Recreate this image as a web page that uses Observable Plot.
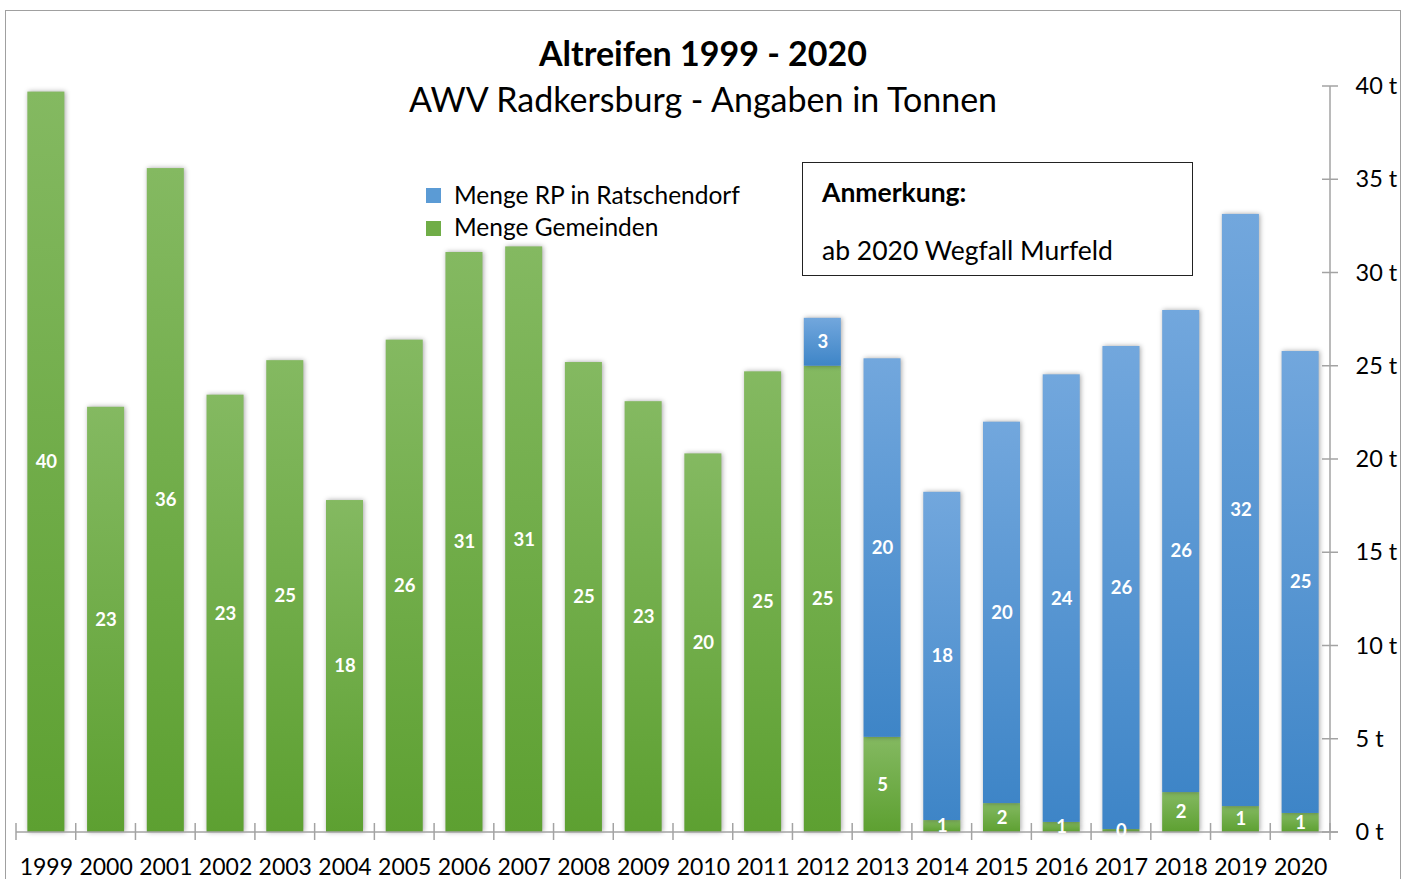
<!DOCTYPE html>
<html>
<head>
<meta charset="utf-8">
<script src="https://cdn.jsdelivr.net/npm/d3@7"></script>
<script src="https://cdn.jsdelivr.net/npm/@observablehq/plot@0.6"></script>
<style>
  html, body { margin: 0; padding: 0; background: #fff; }
  #wrap { position: relative; width: 1418px; height: 879px; overflow: hidden; font-family: Lato, "Open Sans", sans-serif; color: #000; }
  #frame { position: absolute; left: 5px; top: 10px; width: 1396px; height: 900px; border: 1.5px solid #a0a0a0; box-sizing: border-box; }
  #chart { position: absolute; left: 0; top: 0; }
  .abs { position: absolute; white-space: nowrap; line-height: 1; }
  #title { left: 0; width: 1406px; text-align: center; top: 36px; font-size: 34px; font-weight: bold; }
  #subtitle { left: 0; width: 1406px; text-align: center; top: 82px; font-size: 34px; }
  .legsq { position: absolute; width: 15px; height: 15px; }
  .legtx { font-size: 24.5px; }
  #note { position: absolute; left: 802px; top: 162px; width: 391px; height: 114px; border: 1.5px solid #222; box-sizing: border-box; background: #fff; }
  #chart g[aria-label="bar"] rect { filter: drop-shadow(1px 0px 2.5px rgba(0,0,0,0.35)); }
</style>
</head>
<body>
<div id="wrap">
  <div id="frame"></div>
  <div id="chart"></div>
  <div id="title" class="abs">Altreifen 1999 - 2020</div>
  <div id="subtitle" class="abs">AWV Radkersburg - Angaben in Tonnen</div>
  <div class="legsq" style="left:426px; top:188px; background:#5b9bd5;"></div>
  <div class="abs legtx" style="left:454px; top:183px;">Menge RP in Ratschendorf</div>
  <div class="legsq" style="left:426px; top:221px; background:#70ad47;"></div>
  <div class="abs legtx" style="left:454px; top:215px;">Menge Gemeinden</div>
  <div id="note"></div>
  <div class="abs" style="left:822px; top:179px; font-size:26.5px; font-weight:bold;">Anmerkung:</div>
  <div class="abs" style="left:822px; top:237px; font-size:26.5px;">ab 2020 Wegfall Murfeld</div>
</div>
<script>
const years = ["1999","2000","2001","2002","2003","2004","2005","2006","2007","2008","2009","2010","2011","2012","2013","2014","2015","2016","2017","2018","2019","2020"];
const gemeinden = [39.7, 22.8, 35.6, 23.45, 25.3, 17.8, 26.4, 31.1, 31.4, 25.2, 23.1, 20.3, 24.7, 25.0, 5.1, 0.64, 1.55, 0.54, 0.16, 2.14, 1.39, 1.02];
const rp = [0, 0, 0, 0, 0, 0, 0, 0, 0, 0, 0, 0, 0, 2.57, 20.3, 17.6, 20.45, 24.0, 25.9, 25.85, 31.75, 24.77];
const yTicks = [0, 5, 10, 15, 20, 25, 30, 35, 40];

const data = years.map((year, i) => ({year, g: gemeinden[i], b: rp[i]}));
const blueData = data.filter(d => d.b > 0);

function defs() {
  const svg = d3.create("svg:defs");
  const gg = svg.append("linearGradient").attr("id", "gradGreen").attr("x1", 0).attr("x2", 0).attr("y1", 0).attr("y2", 1);
  gg.append("stop").attr("offset", "0%").attr("stop-color", "#84b961");
  gg.append("stop").attr("offset", "100%").attr("stop-color", "#5da031");
  const gb = svg.append("linearGradient").attr("id", "gradBlue").attr("x1", 0).attr("x2", 0).attr("y1", 0).attr("y2", 1);
  gb.append("stop").attr("offset", "0%").attr("stop-color", "#72a7dd");
  gb.append("stop").attr("offset", "100%").attr("stop-color", "#3e85c7");
  return svg.node();
}

function axisLines(index, scales, values, dims) {
  const {width, height, marginLeft, marginRight, marginBottom} = dims;
  const x0 = marginLeft, x1 = width - marginRight, y0 = height - marginBottom;
  const g = d3.create("svg:g").attr("stroke", "#a3a3a3").attr("stroke-width", 1.5).attr("fill", "none");
  g.append("line").attr("x1", x0).attr("x2", x1 + 8).attr("y1", y0).attr("y2", y0);
  const n = years.length;
  for (let i = 0; i <= n; i++) {
    const x = x0 + i * (x1 - x0) / n;
    g.append("line").attr("x1", x).attr("x2", x).attr("y1", y0 - 9).attr("y2", y0 + 8);
  }
  g.append("line").attr("x1", x1).attr("x2", x1).attr("y1", scales.y(40)).attr("y2", y0);
  for (const t of yTicks) {
    const y = scales.y(t);
    g.append("line").attr("x1", x1 - 8).attr("x2", x1 + 8).attr("y1", y).attr("y2", y);
  }
  return g.node();
}

const chart = Plot.plot({
  width: 1418,
  height: 879,
  marginLeft: 16,
  marginRight: 88,
  marginTop: 86,
  marginBottom: 47,
  style: {fontFamily: "Lato, 'Open Sans', sans-serif", background: "transparent", overflow: "visible"},
  x: {domain: years, paddingInner: 0.38, paddingOuter: 0.19, round: false, axis: null},
  y: {domain: [0, 40], axis: null},
  marks: [
    defs,
    Plot.barY(data, {x: "year", y1: 0, y2: "g", fill: "url(#gradGreen)"}),
    Plot.barY(blueData, {x: "year", y1: "g", y2: d => d.g + d.b, fill: "url(#gradBlue)"}),
    axisLines,
    Plot.text(data, {x: "year", y: d => d.g / 2, text: d => String(Math.round(d.g)), fill: "white", fontWeight: "bold", fontSize: 18.5}),
    Plot.text(blueData, {x: "year", y: d => d.g + d.b / 2, text: d => String(Math.round(d.b)), fill: "white", fontWeight: "bold", fontSize: 18.5}),
    Plot.axisX({domain: years, tickSize: 0, tickPadding: 26, fontSize: 23, label: null, fill: "#000"}),
    Plot.axisY({anchor: "right", ticks: yTicks, tickFormat: d => d + " t", tickSize: 0, tickPadding: 25, fontSize: 23.5, label: null, fill: "#000"})
  ]
});
document.getElementById("chart").appendChild(chart);
</script>
</body>
</html>
